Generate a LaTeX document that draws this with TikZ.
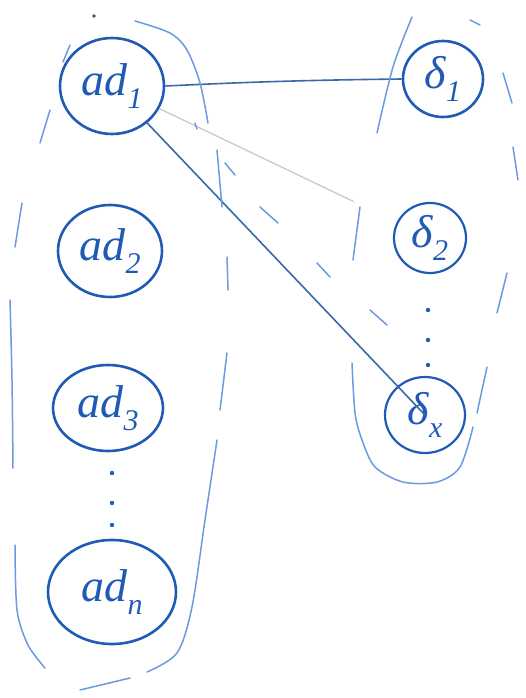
\documentclass[tikz,border=0pt]{standalone}
\usepackage{fontspec}
\setmainfont{Liberation Serif}
\usetikzlibrary{shapes.geometric}
\definecolor{ink}{HTML}{1F5BB5}
\definecolor{edgeblue}{HTML}{3A68A8}
\definecolor{lightink}{HTML}{6A9AE0}
\definecolor{faint}{HTML}{C3CAD6}
\newcommand\mysub[1]{\raisebox{-0.28em}{\fontsize{30}{30}\selectfont #1}}
\tikzset{
  elnode/.style={draw=ink, line width=2.6pt, ellipse, inner sep=0pt, text=ink,
     font=\fontsize{46}{46}\selectfont\itshape},
  outline/.style={draw=lightink, line width=1.5pt, line cap=round},
  conn/.style={draw=edgeblue, line width=1.6pt},
}
\begin{document}
\begin{tikzpicture}[x=1pt,y=-1pt]
\useasboundingbox (0,0) rectangle (526,698);
% nodes
\node[elnode, minimum width=104pt, minimum height=96pt] (ad1) at (112,86) {ad\mysub{1}};
\node[elnode, minimum width=104pt, minimum height=92pt] (ad2) at (110,251) {ad\mysub{2}};
\node[elnode, minimum width=110pt, minimum height=86pt] (ad3) at (108,408) {ad\mysub{3}};
\node[elnode, minimum width=128pt, minimum height=104pt] (adn) at (112,592) {ad\mysub{n}};
\node[elnode, minimum width=80pt, minimum height=76pt] (d1) at (443,79) {δ\mysub{1}};
\node[elnode, minimum width=72pt, minimum height=70pt, line width=2.2pt] (d2) at (430,238) {δ\mysub{2}};
\node[elnode, minimum width=80pt, minimum height=76pt, line width=2.2pt] (dx) at (425,415) {δ\mysub{x}};
% dots
\foreach \y in {473,503,525} \fill[ink] (112,\y) circle (2.2pt);
\foreach \y in {310,340,365} \fill[ink] (428,\y) circle (2.2pt);
\fill[black!70] (94,16) circle (1.8pt);
% connectors
\draw[conn] (ad1.east) to[bend left=1] (d1.west);
\draw[faint, line width=1.3pt, shorten >=48pt] (ad1) -- (d2);
\draw[conn] (ad1) -- (dx.center);
% left group outline
\draw[outline] plot[smooth] coordinates {(135,21) (170,33) (187,50) (200,83) (208,123)};
\draw[outline] (70,45) -- (63,62);
\draw[outline] (50,110) -- (40,143);
\draw[outline] (22,203) -- (15,247);
\draw[outline] plot[smooth] coordinates {(10,300) (12,380) (13,468)};
\draw[outline] plot[smooth] coordinates {(15,545) (17,610) (28,645) (45,668)};
\draw[outline] (80,690) -- (130,678);
\draw[outline] plot[smooth] coordinates {(147,672) (177,653) (192,607) (205,520) (217,440)};
\draw[outline] (220,410) -- (227,353);
\draw[outline] (217,150) -- (222,207);
\draw[outline] (227,257) -- (228,290);
% right group outline
\draw[outline] plot[smooth] coordinates {(412,17) (393,67) (377,133)};
\draw[outline] (360,207) -- (353,260);
\draw[outline] plot[smooth] coordinates {(352,363) (355,413) (362,440) (375,467) (403,482) (437,482) (460,467) (473,427)};
\draw[outline] (477,413) -- (487,367);
\draw[outline] (497,313) -- (507,273);
\draw[outline] (518,180) -- (513,147);
\draw[outline] (512,103) -- (503,73);
\draw[outline] (470,20) -- (480,25);
% diagonal dashes
\draw[outline] (195,123) -- (197,129);
\draw[outline] (225,163) -- (235,175);
\draw[outline] (260,207) -- (278,223);
\draw[outline] (317,263) -- (330,277);
\draw[outline] (370,310) -- (387,325);
\end{tikzpicture}
\end{document}
